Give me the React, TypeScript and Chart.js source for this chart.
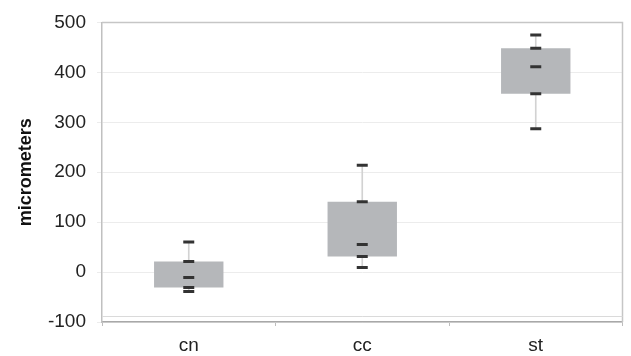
import React, { useEffect, useRef } from "react";
import { Chart, registerables } from "chart.js";

Chart.register(...registerables);

const categories = ["cn", "cc", "st"];
const maxVals = [60, 214, 475];
const q3Vals = [21, 141, 448];
const medianVals = [-11, 55, 411];
const q1Vals = [-31, 31, 357];
const minVals = [-39, 9, 287];
const yTicks = [-100, 0, 100, 200, 300, 400, 500];

const FONT = "'Liberation Sans', Arial, sans-serif";

const framePlugin = {
  id: "frame",
  afterDraw(chart: any) {
    const { ctx, chartArea } = chart;
    const { left, right, top, bottom } = chartArea;
    ctx.save();
    ctx.strokeStyle = "#c6c6c6";
    ctx.lineWidth = 1.5;
    ctx.beginPath();
    ctx.moveTo(left, top);
    ctx.lineTo(right, top);
    ctx.lineTo(right, bottom);
    ctx.stroke();
    ctx.strokeStyle = "#dadada";
    ctx.lineWidth = 1;
    ctx.beginPath();
    ctx.moveTo(left, bottom - 5.5);
    ctx.lineTo(right, bottom - 5.5);
    ctx.stroke();
    ctx.restore();
  },
};

export default function App() {
  const ref = useRef<HTMLCanvasElement | null>(null);
  useEffect(() => {
    if (!ref.current) return;
    const markDs = (vals: number[]) => ({
      type: "line" as const,
      data: vals,
      showLine: false,
      pointStyle: "line",
      pointRadius: 5.5,
      pointHoverRadius: 5.5,
      pointBorderWidth: 3,
      borderColor: "#333333",
      backgroundColor: "#333333",
      order: 0,
    });
    const chart = new Chart(ref.current, {
      type: "bar",
      data: {
        labels: categories,
        datasets: [
          {
            type: "bar",
            data: categories.map((_, i) => [minVals[i], maxVals[i]]),
            backgroundColor: "#d2d2d2",
            barThickness: 1,
            grouped: false,
            order: 2,
          } as any,
          {
            type: "bar",
            data: categories.map((_, i) => [q1Vals[i], q3Vals[i]]),
            backgroundColor: "#b5b7ba",
            borderWidth: 0,
            barPercentage: 0.4,
            categoryPercentage: 1,
            grouped: false,
            order: 1,
          } as any,
          markDs(maxVals),
          markDs(q3Vals),
          markDs(medianVals),
          markDs(q1Vals),
          markDs(minVals),
        ],
      },
      options: {
        animation: false,
        responsive: false,
        layout: { padding: { top: 18, right: 2, left: 0, bottom: 0 } },
        plugins: { legend: { display: false }, tooltip: { enabled: false } },
        scales: {
          x: {
            grid: {
              offset: true,
              drawOnChartArea: false,
              tickLength: 4,
              color: "#bdbdbd",
            },
            border: { color: "#a8a8a8", width: 1.5 },
            ticks: { color: "#222", font: { family: FONT, size: 19 }, padding: 8 },
            afterFit: (s: any) => {
              s.height = 34;
            },
          },
          y: {
            min: -100,
            max: 500,
            afterBuildTicks: (s: any) => {
              s.ticks = yTicks.map((v) => ({ value: v }));
            },
            grid: { color: "#ececec", tickLength: 5, lineWidth: 1 },
            border: { color: "#c0c0c0", width: 1.5 },
            ticks: { color: "#222", font: { family: FONT, size: 19 }, padding: 11 },
            title: {
              display: true,
              text: "micrometers",
              color: "#111",
              font: { family: FONT, size: 18, weight: "bold" },
              padding: { top: 15, bottom: 0 },
            },
            afterFit: (s: any) => {
              s.width = 102;
            },
          },
        },
      },
      plugins: [framePlugin],
    });
    return () => chart.destroy();
  }, []);
  return (
    <div style={{ position: "absolute", left: 0, top: 0, width: 631, height: 356, background: "#fff" }}>
      <canvas ref={ref} width={631} height={356} style={{ display: "block" }} />
    </div>
  );
}
